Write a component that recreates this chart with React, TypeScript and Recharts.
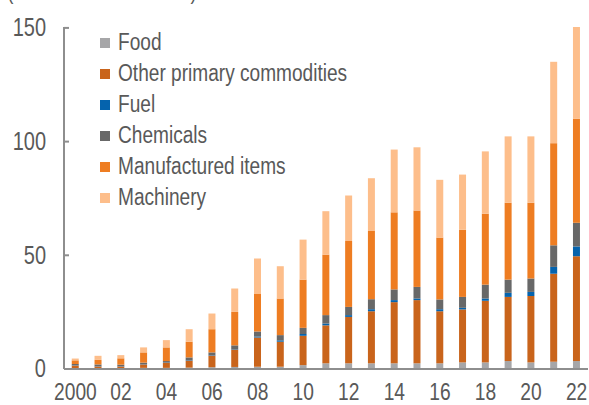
import { BarChart, Bar, XAxis, YAxis, Legend } from 'recharts'

const years = ['2000', '01', '02', '03', '04', '05', '06', '07', '08', '09', '10', '11',
  '12', '13', '14', '15', '16', '17', '18', '19', '20', '21', '22']

const food = [0.3, 0.3, 0.3, 0.5, 0.5, 0.6, 0.8, 0.9, 1.0, 1.0, 1.7, 2.5, 2.5, 2.5, 2.5, 2.5, 2.5, 2.9, 2.9, 3.5, 2.9, 3.2, 3.5]
const otherPrimary = [1.2, 0.8, 0.8, 1.5, 2.2, 3.1, 5.1, 7.7, 12.9, 11.0, 12.9, 16.7, 20.4, 22.9, 26.9, 27.8, 22.9, 23.3, 27.1, 28.2, 29.2, 38.7, 46.1]
const fuel = [0.1, 0.1, 0.1, 0.1, 0.1, 0.2, 0.2, 0.2, 0.4, 0.6, 0.8, 0.8, 0.8, 0.9, 0.9, 0.7, 0.9, 0.7, 1.0, 1.8, 1.8, 3.0, 4.3]
const chemicals = [0.6, 0.8, 0.7, 0.7, 0.7, 1.2, 1.2, 1.6, 2.2, 2.3, 2.7, 3.7, 3.6, 4.4, 4.7, 5.1, 4.3, 4.8, 6.1, 5.8, 5.9, 9.5, 10.4]
const manufactured = [1.6, 2.0, 2.8, 4.5, 6.0, 6.9, 10.2, 14.7, 16.5, 16.1, 21.2, 26.6, 29.0, 30.0, 33.9, 33.6, 27.2, 29.5, 31.2, 33.8, 33.3, 44.9, 45.7]
const machinery = [0.8, 1.8, 1.4, 2.2, 3.2, 5.5, 6.9, 10.3, 15.6, 14.2, 17.6, 19.1, 20.0, 23.2, 27.6, 27.8, 25.4, 24.3, 27.4, 29.2, 29.2, 35.8, 40.4]

const yTicks = [0, 50, 100, 150]

const series = [
  { key: 'food', name: 'Food', color: '#a6a6a8' },
  { key: 'other', name: 'Other primary commodities', color: '#c9641b' },
  { key: 'fuel', name: 'Fuel', color: '#0563ad' },
  { key: 'chem', name: 'Chemicals', color: '#686868' },
  { key: 'manuf', name: 'Manufactured items', color: '#ee7d22' },
  { key: 'mach', name: 'Machinery', color: '#fdbe8b' },
]

const data = years.map((year, i) => ({
  year,
  food: food[i],
  other: otherPrimary[i],
  fuel: fuel[i],
  chem: chemicals[i],
  manuf: manufactured[i],
  mach: machinery[i],
}))

// no narrow font installed, so text is squeezed horizontally instead
const FONT = "'Liberation Sans', Arial, sans-serif"
const TEXT = '#595959'
const AXIS = '#8e8e8e'

function YTick(props: any) {
  const { x, y, payload } = props
  return (
    <g>
      <line x1={x} x2={x + 5} y1={y} y2={y} stroke={AXIS} strokeWidth={2} />
      <text transform={`translate(${x - 18},${y}) scale(0.8,1)`} dy="0.33em" textAnchor="end"
        fill={TEXT} fontSize={25} fontFamily={FONT}>
        {payload.value}
      </text>
    </g>
  )
}

function XTick(props: any) {
  const { x, y, payload } = props
  return (
    <text transform={`translate(${x},${y + 23}) scale(0.8,1)`} dy="0.35em" textAnchor="middle"
      fill={TEXT} fontSize={24} fontFamily={FONT}>
      {payload.value}
    </text>
  )
}

function LegendBox() {
  return (
    <div style={{ fontFamily: FONT, fontSize: 23, color: TEXT, whiteSpace: 'nowrap' }}>
      {series.map((s) => (
        <div key={s.key} style={{ display: 'flex', alignItems: 'center', height: 31 }}>
          <span style={{ width: 10, height: 10, background: s.color, marginRight: 8, display: 'inline-block', flex: 'none' }} />
          <span style={{ display: 'inline-block', transform: 'scaleX(0.83)', transformOrigin: 'left center' }}>{s.name}</span>
        </div>
      ))}
    </div>
  )
}

export default function App() {
  return (
    <div style={{ position: 'relative', width: 589, height: 405 }}>
      <style>{'body{margin:0}'}</style>
      <BarChart
        width={589}
        height={405}
        data={data}
        margin={{ top: 27, right: 1, left: 0, bottom: 0 }}
        barCategoryGap="34%"
      >
        <text x={7} y={-1} textLength={190} lengthAdjust="spacingAndGlyphs" fill={TEXT} fontSize={23} fontFamily={FONT}>
          (Billions of US dollars)
        </text>
        <XAxis
          dataKey="year"
          interval={1}
          tickLine={false}
          tickSize={0}
          tickMargin={0}
          axisLine={{ stroke: AXIS, strokeWidth: 2 }}
          tick={<XTick />}
          height={36}
        />
        <YAxis
          domain={[0, 150]}
          ticks={yTicks}
          width={64}
          tickLine={false}
          tickSize={0}
          tickMargin={0}
          axisLine={{ stroke: AXIS, strokeWidth: 2 }}
          tick={<YTick />}
        />
        <Legend
          layout="vertical"
          align="center"
          verticalAlign="middle"
          content={<LegendBox />}
          wrapperStyle={{ top: 27, left: 100, width: 'auto', height: 'auto' }}
        />
        {series.map((s) => (
          <Bar key={s.key} dataKey={s.key} name={s.name} stackId="a" fill={s.color} isAnimationActive={false} />
        ))}
      </BarChart>
    </div>
  )
}
